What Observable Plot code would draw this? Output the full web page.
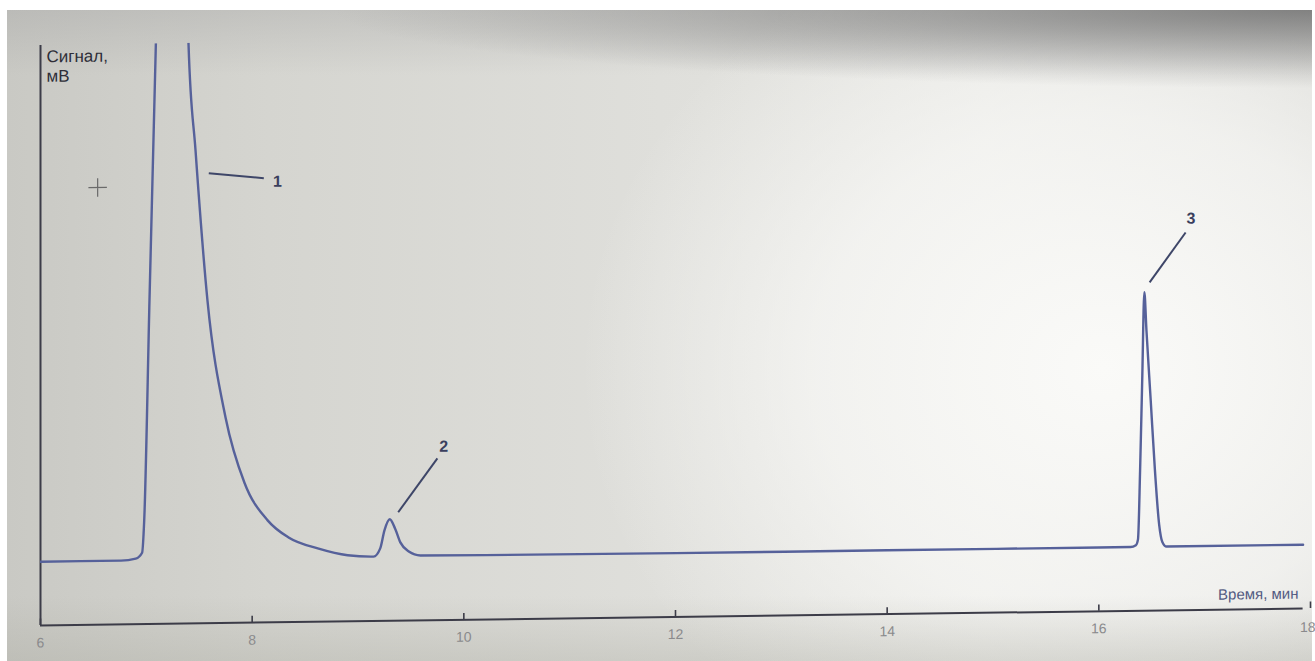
<!DOCTYPE html>
<html>
<head>
<meta charset="utf-8">
<script src="https://cdn.jsdelivr.net/npm/d3@7"></script>
<script src="https://cdn.jsdelivr.net/npm/@observablehq/plot@0.6"></script>
<style>
  html, body { margin: 0; padding: 0; background: #ffffff; width: 1315px; height: 661px; overflow: hidden; }
  #photo {
    position: absolute; left: 7px; top: 10px; width: 1305px; height: 651px;
    background:
      radial-gradient(ellipse 75% 12% at 100% 0%, rgba(105,105,105,0.75) 0%, rgba(105,105,105,0) 100%),
      linear-gradient(to bottom, rgba(160,160,160,0.35) 0%, rgba(160,160,160,0) 10%),
      linear-gradient(to top, rgba(170,170,160,0.35) 0%, rgba(170,170,160,0) 10%),
      radial-gradient(ellipse 40% 70% at 84% 55%, rgba(250,250,248,1) 0%, rgba(248,248,246,0.7) 55%, rgba(246,246,242,0) 100%),
      linear-gradient(to right, #c9c9c4 0%, #d5d5d0 20%, #dfdfdb 50%, #e6e6e2 75%, #dcdcd8 100%);
  }
  #chart { position: absolute; left: 0; top: 0; }
  #chart svg { transform: skewY(-0.77deg); transform-origin: 40px 625px; }
</style>
</head>
<body>
<div id="photo"></div>
<div id="chart"></div>
<script>
// Chromatogram trace: retention time (min) and detector signal (arbitrary mV scale)
const time = [6.0, 6.76, 6.90, 6.96, 6.98, 7.03, 7.09, 7.10, 7.39, 7.399, 7.465, 7.578, 7.749, 7.928, 8.146, 8.344, 8.628, 8.902, 9.147, 9.21, 9.25, 9.30, 9.35, 9.40, 9.48, 9.59, 10.2, 12.0, 14.0, 16.0, 16.30, 16.35, 16.37, 16.39, 16.41, 16.43, 16.45, 16.49, 16.53, 16.57, 16.60, 16.64, 17.93];
const signal = [11.0, 11.0, 11.3, 12.3, 17.9, 56.0, 100.0, 107.0, 107.0, 99.7, 81.5, 55.6, 35.4, 24.1, 17.6, 14.6, 12.6, 11.4, 11.1, 12.5, 15.6, 17.5, 15.9, 13.5, 11.9, 11.2, 11.1, 11.0, 11.0, 11.0, 11.0, 11.3, 12.3, 24.3, 39.8, 54.9, 48.3, 36.3, 24.2, 14.8, 11.8, 11.0, 11.0];

const xTicks = [6, 8, 10, 12, 14, 16, 18];

// Peak numbering and leader lines
const peakLabel = ["1", "2", "3"];
const labelT = [8.24, 9.81, 16.87];
const labelV = [76.0, 29.9, 67.5];
const leaderT1 = [7.59, 9.38, 16.48];
const leaderV1 = [77.6, 18.7, 56.6];
const leaderT2 = [8.11, 9.75, 16.82];
const leaderV2 = [76.6, 27.9, 65.1];

// Cursor cross left on the print
const cursorT = [6.54];
const cursorV = [75.4];

const trace = time.map((t, i) => ({t, v: signal[i]}));
const labels = peakLabel.map((s, i) => ({s, t: labelT[i], v: labelV[i]}));
const leaders = peakLabel.map((s, i) => ({t1: leaderT1[i], v1: leaderV1[i], t2: leaderT2[i], v2: leaderV2[i]}));
const cursor = cursorT.map((t, i) => ({t, v: cursorV[i]}));
const lastTick = xTicks[xTicks.length - 1];

const chart = Plot.plot({
  width: 1315,
  height: 661,
  marginLeft: 40,
  marginRight: 5,
  marginTop: 45,
  marginBottom: 36,
  style: {background: "transparent", fontFamily: "'Liberation Sans', Arial, sans-serif", overflow: "visible"},
  x: {domain: [6, 18]},
  y: {domain: [0, 100], axis: null},
  marks: [
    Plot.axisX({ticks: xTicks.slice(0, -1), tickSize: 0, tickPadding: 12, label: null, fontSize: 14, color: "#8a8a8c", tickFormat: d => String(d)}),
    Plot.text([lastTick], {x: d => d, y: 0, text: d => String(d), dy: 19, dx: 5, textAnchor: "end", lineAnchor: "middle", fontSize: 14, fill: "#8a8a8c"}),
    Plot.ruleX(xTicks, {y1: 0, y2: 1.1, stroke: "#3c3c48", strokeWidth: 1.6}),
    Plot.ruleY([0], {x1: 6, x2: 17.93, stroke: "#3c3c48", strokeWidth: 2}),
    Plot.ruleX([6], {y1: 0, y2: 100, stroke: "#3c3c48", strokeWidth: 2}),
    Plot.line(trace, {x: "t", y: "v", stroke: "#56619a", strokeWidth: 2.4, curve: "monotone-x", clip: true}),
    Plot.link(leaders, {x1: "t1", y1: "v1", x2: "t2", y2: "v2", stroke: "#3e4668", strokeWidth: 2}),
    Plot.text(labels, {x: "t", y: "v", text: "s", fontSize: 16, fontWeight: "bold", fill: "#3a3f5e"}),
    Plot.dot(cursor, {x: "t", y: "v", symbol: "plus", r: 6, stroke: "#6a6a6a", strokeWidth: 1.2}),
    Plot.text(["Сигнал,\nмВ"], {frameAnchor: "top-left", dx: 6, dy: 3, lineAnchor: "top", textAnchor: "start", fontSize: 17, fill: "#2e2e38", lineHeight: 1.15}),
    Plot.text(["Время, мин"], {frameAnchor: "bottom-right", dx: -12, dy: -10, lineAnchor: "bottom", textAnchor: "end", fontSize: 15, fill: "#525a82"})
  ]
});
document.getElementById("chart").appendChild(chart);
</script>
</body>
</html>
